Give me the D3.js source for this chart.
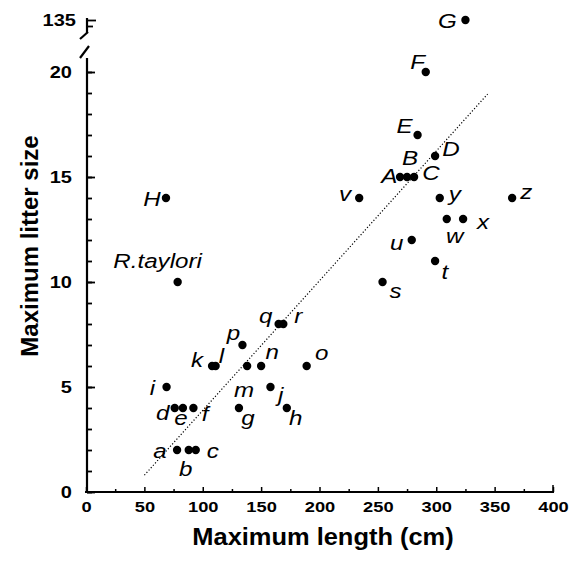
<!DOCTYPE html>
<html>
<head>
<meta charset="utf-8">
<script src="https://cdn.jsdelivr.net/npm/d3@7"></script>
<style>
  body { margin: 0; background: #fff; }
  text { font-family: "Liberation Sans", Arial, sans-serif; fill: #000; }
</style>
</head>
<body>
<div id="graph-container"></div>
<script>
// species codes, max length (cm), max litter size
const species = ["a","b","c","d","e","f","g","h","i","j","k","l","m","n","o","p","q","r",
  "s","t","u","v","w","x","y","z","A","B","C","D","E","F","G","H","R.taylori"];
const lengths = [78,88,94,76,83,92,131,172,69,158,108,111,138,150,189,134,165,169,
  254,299,279,234,309,323,303,365,269,275,281,299,284,291,325,68.5,78.5];
const litters = [2,2,2,4,4,4,4,4,5,5,6,6,6,6,6,7,8,8,
  10,11,12,14,13,13,14,14,15,15,15,16,17,20,135,14,10];

const trendX = [50, 344];
const trendY = [0.8, 18.95];

const xTicks = [0,50,100,150,200,250,300,350,400];
const yTicks = [0,5,10,15,20];

// label placement relative to dot (text centre, px)
const labelOffset = {
  a:[-17,0], b:[-3,18], c:[17,0], d:[-12,4], e:[-2,9], f:[12,5], g:[9,9], h:[9,9],
  i:[-14,0], j:[10,7], k:[-15,-7], l:[6,-11], m:[-3,23], n:[11,-15], o:[15,-14],
  p:[-9,-13], q:[-13,-9], r:[15,-9], s:[13,8], t:[10,10], u:[-15,2], v:[-14,-5],
  w:[8,16], x:[20,2], y:[15,-5], z:[14,-7], A:[-11,-2], B:[3,-20], C:[17,-5],
  D:[16,-8], E:[-13,-10], F:[-8,-11], G:[-18,0], H:[-14,0], "R.taylori":[-20,-22]
};

const width = 573, height = 561;
const data = species.map((s, i) => ({name: s, len: lengths[i], lit: litters[i]}));

const x = d3.scaleLinear().domain([0, 400]).range([86, 553]);
const y = d3.scaleLinear().domain([0, 20]).range([492, 72]);
const yTop = d3.scaleLinear().domain([134, 135]).range([26, 20]); // above the break
const yPos = v => v > 100 ? yTop(v) : y(v);

const svg = d3.create("svg")
  .attr("width", width)
  .attr("height", height)
  .attr("viewBox", [0, 0, width, height]);

// x axis, ticks pointing inward
const gx = svg.append("g").attr("transform", `translate(0,${y(0)})`);
gx.call(d3.axisBottom(x).tickValues(d3.range(25, 400, 50)).tickSize(-3).tickFormat(""));
gx.call(g => g.append("g").call(d3.axisBottom(x).tickValues(xTicks).tickSize(-5).tickPadding(9)));
gx.selectAll(".domain").remove();
gx.selectAll("line").attr("stroke", "#000").attr("stroke-width", 1.5);
gx.selectAll("text")
  .attr("font-size", 15).attr("font-weight", "bold")
  .attr("font-family", "Liberation Sans, Arial, sans-serif")
  .style("transform-box", "fill-box").style("transform-origin", "center")
  .style("transform", "scaleX(1.22)");
gx.append("line")
  .attr("x1", x(0) - 1).attr("x2", x(400) + 1)
  .attr("stroke", "#000").attr("stroke-width", 2.2);
gx.append("line")
  .attr("x1", x(400)).attr("x2", x(400)).attr("y2", -7)
  .attr("stroke", "#000").attr("stroke-width", 1.5);

// y axis
const axX = 87;
const gy = svg.append("g").attr("transform", `translate(${axX},0)`);
gy.call(d3.axisRight(y).tickValues(d3.range(0, 21)).tickSize(5).tickFormat(""));
gy.call(g => g.append("g").call(d3.axisRight(y).tickValues(yTicks).tickSize(8).tickFormat("")));
gy.call(g => g.append("g").call(d3.axisRight(yTop).tickValues([134]).tickSize(6).tickFormat("")));
gy.call(g => g.append("g").call(d3.axisRight(yTop).tickValues([135]).tickSize(9).tickFormat("")));
gy.selectAll(".domain").remove();
gy.selectAll("line").attr("stroke", "#000").attr("stroke-width", 1.8);
gy.append("line").attr("y1", y(0)).attr("y2", 58).attr("stroke", "#000").attr("stroke-width", 2.2);
gy.append("line").attr("y1", 18).attr("y2", 33).attr("stroke", "#000").attr("stroke-width", 2.2);
// break marks
gy.append("line").attr("x1", -7).attr("y1", 58).attr("x2", 2).attr("y2", 46)
  .attr("stroke", "#000").attr("stroke-width", 2.2);
gy.append("line").attr("x1", -7).attr("y1", 39).attr("x2", 1).attr("y2", 32)
  .attr("stroke", "#000").attr("stroke-width", 2.2);

// y tick labels
svg.append("g").selectAll("text")
  .data(yTicks.concat([135]))
  .join("text")
  .attr("x", d => d === 135 ? 76 : 72)
  .attr("y", d => yPos(d))
  .attr("dy", "0.36em")
  .attr("text-anchor", "end")
  .attr("font-size", 16).attr("font-weight", "bold")
  .style("transform-box", "fill-box").style("transform-origin", "right")
  .style("transform", "scaleX(1.25)")
  .text(d => d);

// trend line
svg.append("line")
  .attr("x1", x(trendX[0])).attr("y1", y(trendY[0]))
  .attr("x2", x(trendX[1])).attr("y2", y(trendY[1]))
  .attr("stroke", "#000").attr("stroke-width", 1.2)
  .attr("stroke-dasharray", "1.2,2");

// points
svg.append("g").selectAll("circle")
  .data(data)
  .join("circle")
  .attr("cx", d => x(d.len))
  .attr("cy", d => yPos(d.lit))
  .attr("r", 4.2)
  .attr("fill", "#000");

// point labels
svg.append("g").selectAll("text")
  .data(data)
  .join("text")
  .attr("x", d => x(d.len) + labelOffset[d.name][0])
  .attr("y", d => yPos(d.lit) + labelOffset[d.name][1])
  .attr("dy", "0.36em")
  .attr("text-anchor", "middle")
  .attr("font-size", 21).attr("font-style", "italic")
  .style("transform-box", "fill-box").style("transform-origin", "center")
  .style("transform", "scaleX(1.15)")
  .text(d => d.name);

// axis titles
svg.append("text")
  .attr("x", 323).attr("y", 536)
  .attr("dy", "0.36em")
  .attr("text-anchor", "middle")
  .attr("font-size", 24).attr("font-weight", "bold")
  .style("transform-box", "fill-box").style("transform-origin", "center")
  .style("transform", "scaleX(1.06)")
  .text("Maximum length (cm)");

svg.append("text")
  .attr("transform", "translate(29,246) rotate(-90)")
  .attr("dy", "0.36em")
  .attr("text-anchor", "middle")
  .attr("font-size", 24).attr("font-weight", "bold")
  .text("Maximum litter size");

document.getElementById("graph-container").appendChild(svg.node());
</script>
</body>
</html>
